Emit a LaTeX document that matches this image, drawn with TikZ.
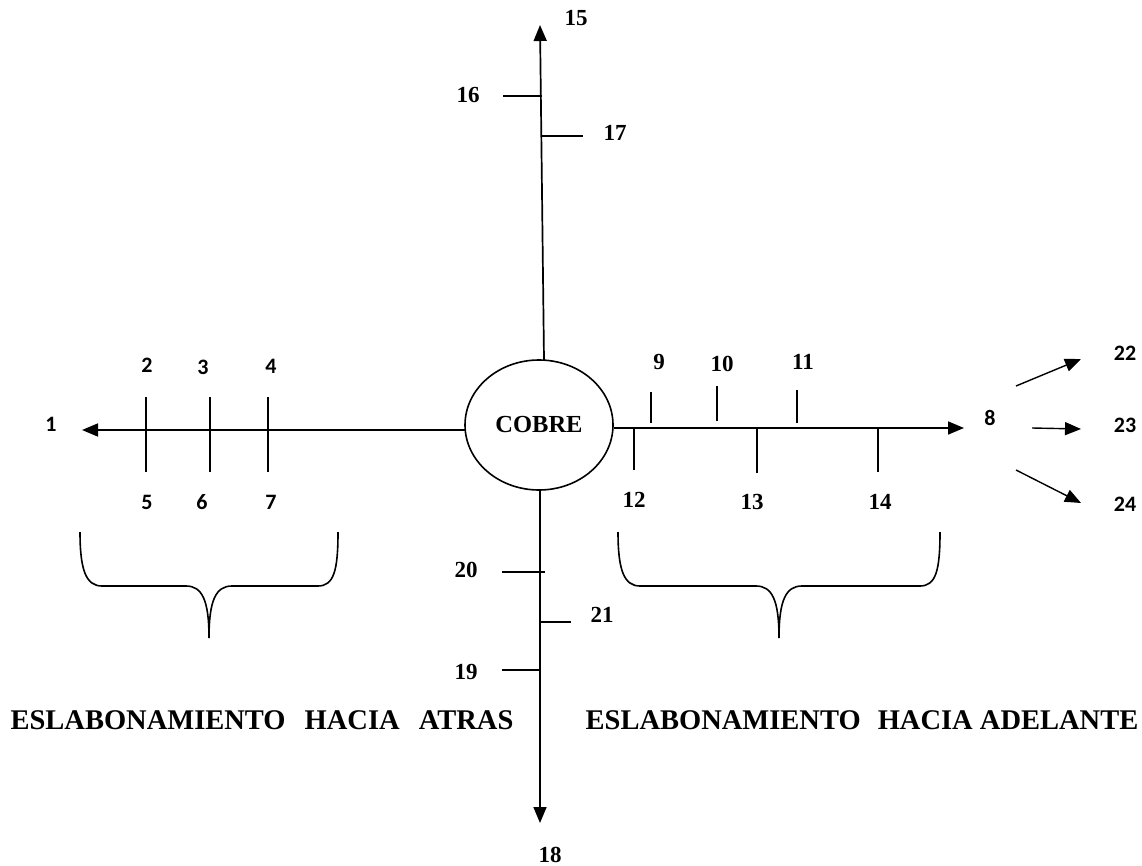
\documentclass[tikz,border=0pt]{standalone}
\usepackage{fontspec}
\setmainfont{Liberation Serif}
\newfontfamily\calfont{Carlito}
\usetikzlibrary{arrows.meta,shapes.geometric}
\tikzset{
  arr/.style={line width=1.7pt,-{Triangle[length=16pt,width=13pt]}},
  tick/.style={line width=1.5pt},
  num/.style={font=\fontsize{23}{26}\selectfont\bfseries,inner sep=0pt},
  snum/.style={font=\fontsize{22}{25}\selectfont\calfont\bfseries,inner sep=0pt},
  title/.style={font=\fontsize{28.5}{31}\selectfont\bfseries,inner sep=0pt},
  brace/.style={line width=1.6pt}
}
\begin{document}
\begin{tikzpicture}[x=1pt,y=-1pt]
\useasboundingbox (0,0) rectangle (1142,866);
% central ellipse
\node[ellipse,draw,line width=1.6pt,minimum width=148pt,minimum height=130pt,inner sep=0pt,
  font=\fontsize{24.5}{27}\selectfont\bfseries] (cobre) at (539,425) {COBRE};
% axes
\coordinate (tE) at (544,360);
\coordinate (tA) at (540,25);
\draw[arr] (tE) -- (tA);
\coordinate (lE) at (465,430);
\coordinate (lA) at (82,430);
\draw[arr] (lE) -- (lA);
\coordinate (rE) at (614,428);
\coordinate (rA) at (964,428);
\draw[arr] (rE) -- (rA);
\coordinate (bE) at (540,490);
\coordinate (bA) at (540,823);
\draw[arr] (bE) -- (bA);
% top ticks
\coordinate (t16a) at (503,96); \coordinate (t16b) at (542,96);
\draw[tick] (t16a) -- (t16b);
\coordinate (t17a) at (541,136); \coordinate (t17b) at (583,136);
\draw[tick] (t17a) -- (t17b);
\node[num] (n15) at (576,18) {15};
\node[num] (n16) at (468,95) {16};
\node[num] (n17) at (615,133) {17};
% left ticks
\foreach \x/\i in {146/a,210/b,268/c}{
  \coordinate (lt\i1) at (\x,397); \coordinate (lt\i2) at (\x,472);
  \draw[tick] (lt\i1) -- (lt\i2);
}
\node[snum] (n1) at (51,424) {1};
\node[snum] (n2) at (147,365) {2};
\node[snum] (n3) at (203,367) {3};
\node[snum] (n4) at (271,366) {4};
\node[snum] (n5) at (147,502) {5};
\node[snum] (n6) at (202,502) {6};
\node[snum] (n7) at (271,502) {7};
% right ticks
\foreach \x/\ya/\yb/\i in {651/392/423/a,717/386/421/b,797/390/423/c,634/428/470/d,757/428/473/e,878/428/472/f}{
  \coordinate (rt\i1) at (\x,\ya); \coordinate (rt\i2) at (\x,\yb);
  \draw[tick] (rt\i1) -- (rt\i2);
}
\node[num] (n9) at (659,362) {9};
\node[num] (n10) at (722,364) {10};
\node[num] (n11) at (803,362) {11};
\node[num] (n12) at (634,500) {12};
\node[num] (n13) at (752,502) {13};
\node[num] (n14) at (880,502) {14};
\node[snum] (n8) at (990,418) {8};
% fan arrows
\coordinate (f1a) at (1016,386); \coordinate (f1b) at (1081,359);
\coordinate (f2a) at (1032,428); \coordinate (f2b) at (1081,429);
\coordinate (f3a) at (1016,470); \coordinate (f3b) at (1081,503);
\draw[arr,line width=1.4pt] (f1a) -- (f1b);
\draw[arr,line width=1.4pt] (f2a) -- (f2b);
\draw[arr,line width=1.4pt] (f3a) -- (f3b);
\node[snum] (n22) at (1125,353) {22};
\node[snum] (n23) at (1125,425) {23};
\node[snum] (n24) at (1125,504) {24};
% bottom ticks
\coordinate (b20a) at (502,572); \coordinate (b20b) at (545,572);
\draw[tick] (b20a) -- (b20b);
\coordinate (b21a) at (540,622); \coordinate (b21b) at (571,622);
\draw[tick] (b21a) -- (b21b);
\coordinate (b19a) at (502,670); \coordinate (b19b) at (541,670);
\draw[tick] (b19a) -- (b19b);
\node[num] (n20) at (466,570) {20};
\node[num] (n21) at (602,615) {21};
\node[num] (n19) at (466,672) {19};
\node[num] (n18) at (550,855) {18};
% braces
\draw[brace] (80,532) .. controls (80,570) and (86,586) .. (102,586) -- (186,586)
  .. controls (202,586) and (209,600) .. (209,638)
  .. controls (209,600) and (216,586) .. (232,586) -- (318,586)
  .. controls (334,586) and (338,570) .. (338,532);
\draw[brace] (618,532) .. controls (618,570) and (624,586) .. (640,586) -- (756,586)
  .. controls (772,586) and (779,600) .. (779,638)
  .. controls (779,600) and (786,586) .. (802,586) -- (920,586)
  .. controls (936,586) and (940,570) .. (940,532);
% titles
\node[title] (tl) at (262,720) {ESLABONAMIENTO\hspace{12pt} HACIA\hspace{12pt} ATRAS};
\node[title] (tr) at (862,720) {ESLABONAMIENTO\hspace{10pt} HACIA ADELANTE};
\end{tikzpicture}
\end{document}
